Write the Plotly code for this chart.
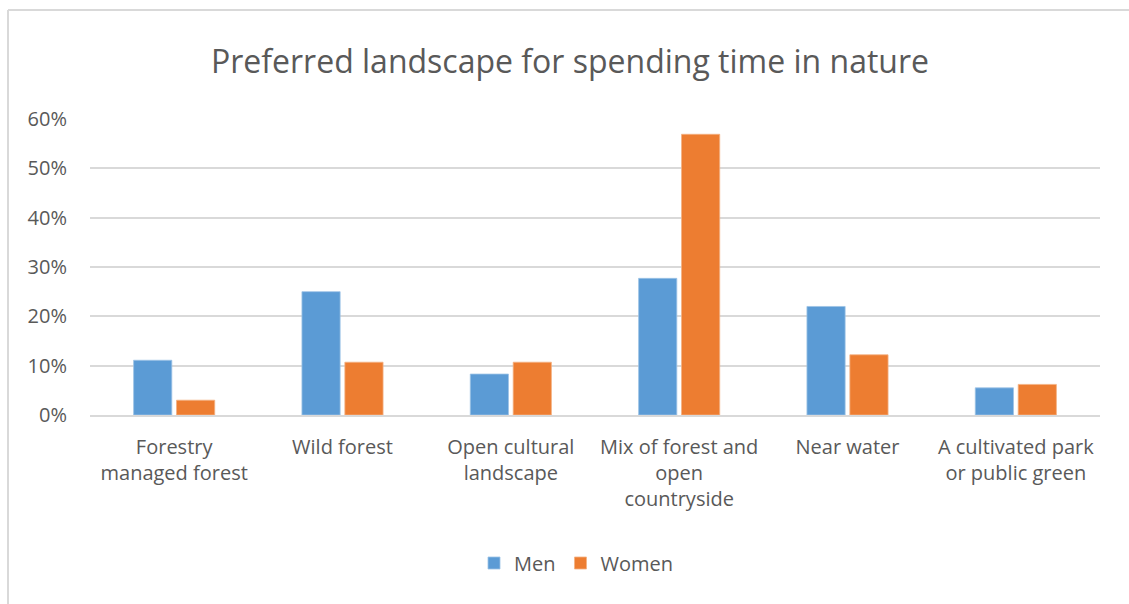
import plotly.graph_objects as go

# Survey results: share of respondents preferring each landscape
categories = [
    "Forestry<br>managed forest",
    "Wild forest",
    "Open cultural<br>landscape",
    "Mix of forest and<br>open<br>countryside",
    "Near water",
    "A cultivated park<br>or public green",
]
men = [11.1, 25.0, 8.3, 27.7, 22.0, 5.5]
women = [3.0, 10.7, 10.7, 56.9, 12.2, 6.2]
y_ticks = [0, 10, 20, 30, 40, 50, 60]
y_tick_labels = ["0%", "10%", "20%", "30%", "40%", "50%", "60%"]

FONT = "Open Sans"
TEXT = "#595959"
GRID = "#D9D9D9"

fig = go.Figure()
fig.add_trace(go.Bar(name="Men", x=categories, y=men,
                     marker=dict(color="#5B9BD5", line=dict(color="#9DC3E6", width=0.8))))
fig.add_trace(go.Bar(name="Women", x=categories, y=women,
                     marker=dict(color="#ED7D31", line=dict(color="#F4B183", width=0.8))))

L, R, T, B = 90, 29, 119, 189
W, H = 1129, 604
pw, ph = W - L - R, H - T - B

# chart frame (light grey border at top and left)
fx = (8 - L) / pw
fy = (H - B - 10) / ph
fig.add_shape(type="line", xref="paper", yref="paper", x0=fx, x1=1.2, y0=fy, y1=fy,
              line=dict(color=GRID, width=2))
fig.add_shape(type="line", xref="paper", yref="paper", x0=fx, x1=fx, y0=-1, y1=fy,
              line=dict(color=GRID, width=2))

fig.update_layout(
    width=W, height=H,
    margin=dict(l=L, r=R, t=T, b=B),
    paper_bgcolor="white", plot_bgcolor="white",
    font=dict(family=FONT, color=TEXT, size=20),
    title=dict(text="Preferred landscape for spending time in nature",
               x=570 / W, xref="container", xanchor="center",
               y=1 - 62 / H, yanchor="middle",
               font=dict(size=32, color=TEXT, family=FONT)),
    barmode="group", bargap=0.49, bargroupgap=0.11,
    showlegend=True,
    legend=dict(orientation="h", x=(576 - L) / pw, xanchor="center", xref="paper",
                y=(H - B - 563) / ph, yanchor="middle",
                font=dict(size=20, color=TEXT), itemwidth=30),
    xaxis=dict(showgrid=False, showline=True, linecolor=GRID, linewidth=1.5,
               ticks="", tickfont=dict(size=20, color=TEXT), ticklabelstandoff=13),
    yaxis=dict(range=[0, 60], tickmode="array", tickvals=y_ticks, ticktext=y_tick_labels,
               showgrid=True, gridcolor=GRID, gridwidth=1.5,
               zeroline=False, showline=False, ticks="",
               tickfont=dict(size=20, color=TEXT), ticklabelstandoff=22),
)

fig.write_html("out.html")
